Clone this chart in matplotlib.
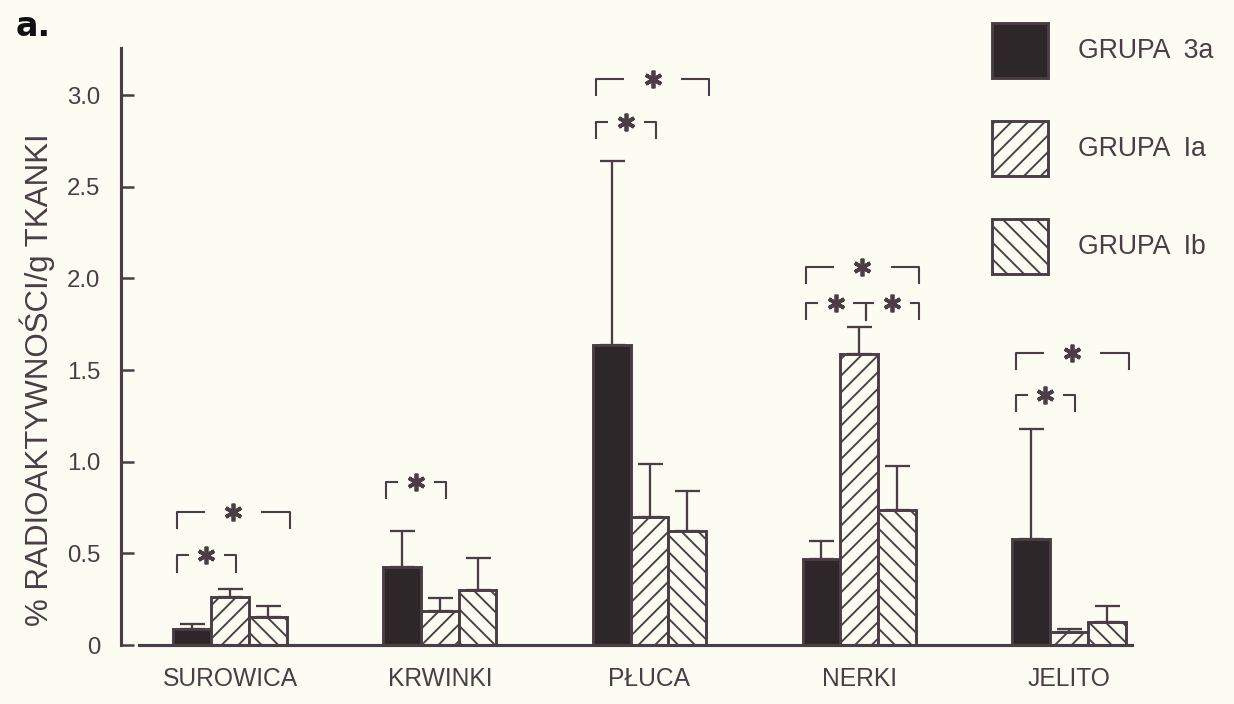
import numpy as np
import matplotlib
matplotlib.use("Agg")
import matplotlib.pyplot as plt

plt.rcParams['font.family'] = ['Liberation Sans', 'DejaVu Sans']
plt.rcParams['hatch.linewidth'] = 0.9

# ---------- DATA ----------
categories = ["SUROWICA", "KRWINKI", "PŁUCA", "NERKI", "JELITO"]
groups = ["GRUPA  3a", "GRUPA  Ia", "GRUPA  Ib"]

mean_3a = [0.087, 0.428, 1.637, 0.469, 0.578]
mean_1a = [0.262, 0.188, 0.698, 1.586, 0.073]
mean_1b = [0.154, 0.301, 0.622, 0.736, 0.125]

sd_3a = [0.028, 0.194, 1.003, 0.100, 0.600]
sd_1a = [0.046, 0.070, 0.290, 0.151, 0.015]
sd_1b = [0.059, 0.174, 0.218, 0.241, 0.089]

yticks = [0, 0.5, 1.0, 1.5, 2.0, 2.5, 3.0]
ytick_labels = ["0", "0.5", "1.0", "1.5", "2.0", "2.5", "3.0"]

# significance brackets: (category index, pair, height)
sig_pairs = [
    (0, "3a-Ia", 0.49), (0, "3a-Ib", 0.727),
    (1, "3a-Ia", 0.89),
    (2, "3a-Ia", 2.855), (2, "3a-Ib", 3.09),
    (3, "3a-Ia", 1.866), (3, "Ia-Ib", 1.866), (3, "3a-Ib", 2.064),
    (4, "3a-Ia", 1.364), (4, "3a-Ib", 1.595),
]

# ---------- STYLE ----------
INK = '#4a3d45'
DARK = '#2d2729'
BG = '#fcfcf3'
W = 0.18          # bar width in category units
LEG = 0.095       # bracket leg length (data units)

W_PX, H_PX, DPI = 1234, 704, 150
fig = plt.figure(figsize=(W_PX / DPI, H_PX / DPI), dpi=DPI)
fig.patch.set_facecolor(BG)
ax = fig.add_axes([121 / W_PX, 1 - 645 / H_PX, (1132 - 121) / W_PX, (645 - 48) / H_PX])
ax.set_facecolor(BG)

x = np.arange(len(categories))
zeros = np.zeros(len(categories))

b1 = ax.bar(x - W, mean_3a, W, color=DARK, edgecolor=INK, linewidth=1.4, zorder=2)
b2 = ax.bar(x, mean_1a, W, facecolor=BG, edgecolor=INK, hatch='///', linewidth=1.4, zorder=2)
b3 = ax.bar(x + W, mean_1b, W, facecolor=BG, edgecolor=INK, hatch='\\\\\\', linewidth=1.4, zorder=2)

for xs, m, s in [(x - W, mean_3a, sd_3a), (x, mean_1a, sd_1a), (x + W, mean_1b, sd_1b)]:
    ax.errorbar(xs, m, yerr=[zeros, s], fmt='none', ecolor=INK, elinewidth=1.1,
                capsize=6, capthick=1.1, zorder=3)

# ---------- SIGNIFICANCE BRACKETS ----------
def bracket(x0, x1, y, gap):
    xm = (x0 + x1) / 2
    kw = dict(color=INK, lw=1.0, solid_capstyle='butt', zorder=4)
    ax.plot([x0, x0, xm - gap / 2], [y - LEG, y, y], **kw)
    ax.plot([xm + gap / 2, x1, x1], [y, y, y - LEG], **kw)
    ax.plot([xm], [y], marker=(6, 2, 0), ms=8.5, mew=1.8, color=INK, zorder=4)

for i, pair, y in sig_pairs:
    left = i - 1.5 * W + 0.015
    mid = i + 0.03
    right = i + 1.5 * W + 0.015
    if pair == "3a-Ia":
        bracket(left, mid, y, 0.17)
    elif pair == "Ia-Ib":
        bracket(mid, right, y, 0.17)
        ax.plot([mid, mid], [y, y - LEG], color=INK, lw=1.0, zorder=4)
    else:
        bracket(left, right, y, 0.27)

# ---------- AXES ----------
xl, xr = (121 - 230) / 209.75, (1132 - 230) / 209.75
ax.set_xlim(xl, xr)
ax.set_ylim(0, 3.257)

for s in ['top', 'right']:
    ax.spines[s].set_visible(False)
ax.spines['left'].set_color(INK)
ax.spines['left'].set_linewidth(1.5)
ax.spines['bottom'].set_color(INK)
ax.spines['bottom'].set_linewidth(1.5)
ax.spines['bottom'].set_bounds(xl + 18 / 209.75, xr)

ax.set_xticks(x)
ax.set_xticklabels(categories, fontsize=11.8, color=INK)
ax.tick_params(axis='x', length=0, pad=10.5)

ax.set_yticks(yticks)
ax.set_yticklabels(ytick_labels, fontsize=11.5, color=INK)
ax.tick_params(axis='y', direction='in', length=6, width=1.2, color=INK, pad=10)

fig.text(37 / W_PX, 1 - 380 / H_PX, "% RADIOAKTYWNOŚCI/g TKANKI", rotation=90,
         ha='center', va='center', fontsize=15, color=INK)

fig.text(16 / W_PX, 1 - 36 / H_PX, "a.", fontsize=16, fontweight='heavy',
         family='DejaVu Sans', color='#111111')

# ---------- LEGEND ----------
LEG_FS = 12.8
fs_px = LEG_FS * DPI / 72
hh = (55 / fs_px - 0.245) / 0.65
ax.legend([b1, b2, b3], groups, loc='upper left',
          bbox_to_anchor=(992 / W_PX, 1 - 23 / H_PX), bbox_transform=fig.transFigure,
          frameon=False, borderpad=0, borderaxespad=0, fontsize=LEG_FS,
          labelcolor=INK, handlelength=56 / fs_px, handleheight=hh,
          labelspacing=43 / fs_px, handletextpad=30 / fs_px)

fig.savefig("out.png", dpi=DPI, facecolor=BG)
